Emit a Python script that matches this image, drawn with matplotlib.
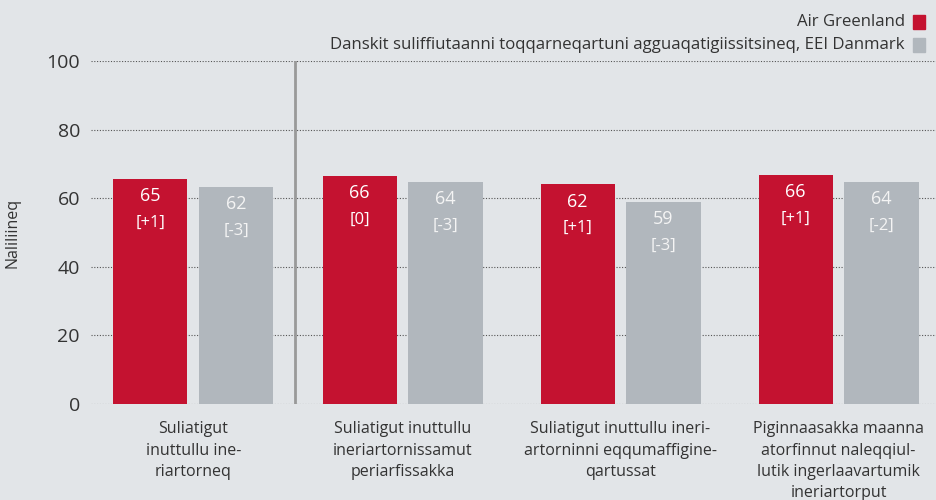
import matplotlib.pyplot as plt
from matplotlib.patches import Rectangle
import numpy as np

categories = [
    "Suliatigut\ninuttullu ine-\nriartorneq",
    "Suliatigut inuttullu\nineriartornissamut\nperiarfissakka",
    "Suliatigut inuttullu ineri-\nartorninni eqqumaffigine-\nqartussat",
    "Piginnaasakka maanna\natorfinnut naleqqiul-\nlutik ingerlaavartumik\nineriartorput",
]
air_greenland = [65.6, 66.5, 64.0, 66.8]
eei_danmark = [63.3, 64.7, 58.9, 64.7]
ag_labels = ["65", "66", "62", "66"]
ag_change = ["[+1]", "[0]", "[+1]", "[+1]"]
eei_labels = ["62", "64", "59", "64"]
eei_change = ["[-3]", "[-3]", "[-3]", "[-2]"]

legend_names = ["Air Greenland",
                "Danskit suliffiutaanni toqqarneqartuni agguaqatigiissitsineq, EEI Danmark"]

RED = "#c41230"
GREY = "#b1b7bd"
BG = "#e2e5e8"
TXT = "#333333"

plt.rcParams['font.family'] = ['Open Sans', 'DejaVu Sans']

fig = plt.figure(figsize=(9.36, 5.0), dpi=100, facecolor=BG)
ax = fig.add_axes([91 / 936, 1 - 404 / 500, 1 - 91 / 936, 343 / 500])
ax.set_facecolor(BG)

pos = np.array([0.04, 1.0, 2.0, 3.0])
w = 0.34
off = 0.197

for y in range(0, 101, 20):
    ax.axhline(y, color="#555555", lw=0.8, ls=(0, (1, 1.5)), zorder=1)

ax.bar(pos - off, air_greenland, w, color=RED, zorder=2)
ax.bar(pos + off, eei_danmark, w, color=GREY, zorder=2)

for i in range(len(pos)):
    for x, h, lab, ch, tc in [(pos[i] - off, air_greenland[i], ag_labels[i], ag_change[i], "white"),
                              (pos[i] + off, eei_danmark[i], eei_labels[i], eei_change[i], "#f4f4f4")]:
        ax.annotate(lab, (x, h), xytext=(0, -12.5), textcoords="offset points",
                    ha="center", va="center", color=tc, fontsize=13, zorder=3)
        ax.annotate(ch, (x, h), xytext=(0, -31.5), textcoords="offset points",
                    ha="center", va="center", color=tc, fontsize=12, zorder=3)

ax.plot([0.507, 0.507], [0, 100], color="#999999", lw=2, zorder=1.5)

ax.set_xlim(-0.429, 3.447)
ax.set_ylim(0, 100)
ax.set_yticks(range(0, 101, 20))
ax.set_xticks(pos)
ax.set_xticklabels(categories, fontsize=11.5, color=TXT, linespacing=1.44)
ax.tick_params(axis="both", length=0)
ax.tick_params(axis="x", pad=12.5)
ax.tick_params(axis="y", pad=8, labelsize=14, labelcolor=TXT)
for s in ax.spines.values():
    s.set_visible(False)
ax.set_ylabel("Naliliineq", fontsize=11.5, color=TXT)
ax.yaxis.set_label_coords(-0.083, 0.5)

# legend, text on the left of the squares
for k, (name, col) in enumerate(zip(legend_names, [RED, GREY])):
    yc = 1 - (22 + 23 * k) / 500
    fig.text(905 / 936, yc, name, ha="right", va="center", fontsize=12.1, color=TXT)
    fig.add_artist(Rectangle((913 / 936, yc - 6.5 / 500), 12 / 936, 13 / 500,
                             transform=fig.transFigure, color=col))

fig.savefig("out.png", dpi=100, facecolor=BG)
